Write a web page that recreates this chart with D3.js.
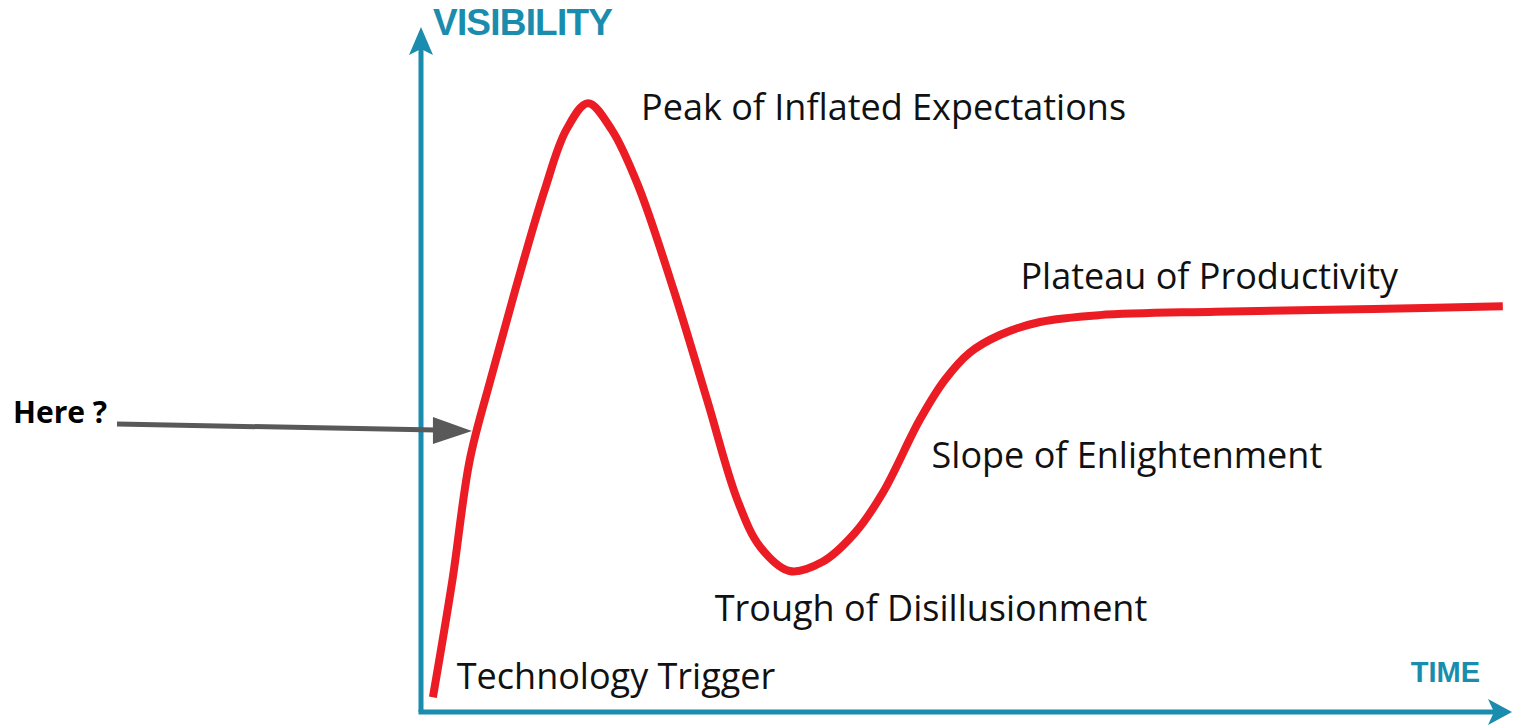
<!DOCTYPE html>
<meta charset="utf-8">
<style>
  body { margin: 0; background: #fff; }
  text { font-family: "Open Sans", "Noto Sans", sans-serif; }
</style>
<script src="https://cdn.jsdelivr.net/npm/d3@7"></script>
<div id="chart"></div>
<script>

// hype cycle (time and visibility on 0-100 scales)
var time = [1.1, 2.9, 4.5, 6.4, 8.7, 11.4, 13.4, 15.4, 17.6, 20.0, 23.3, 26.4, 29.2, 31.3, 34.0, 37.0, 40.0, 42.6, 46.0, 48.3, 50.6, 53.4, 57.1, 62.6, 73.3, 87.9, 99.8]
var visibility = [2.3, 19.4, 36.9, 48.5, 61.7, 76.2, 85.0, 88.9, 85.0, 77.0, 61.7, 45.6, 31.0, 24.2, 20.7, 22.0, 26.2, 32.1, 42.7, 48.5, 52.5, 55.1, 57.0, 58.0, 58.5, 58.9, 59.3]

var phases = ["Technology Trigger", "Peak of Inflated Expectations", "Trough of Disillusionment", "Slope of Enlightenment", "Plateau of Productivity"]
var axisTitles = ["TIME", "VISIBILITY"]
var pointer = "Here ?"

var width = 1514,
    height = 725

var x = d3.scaleLinear().domain([0, 100]).range([421, 1505])
var y = d3.scaleLinear().domain([0, 100]).range([713, 27])

var svg = d3.select("#chart")
  .append("svg")
    .attr("width", width)
    .attr("height", height)

var teal = "#1a8cad"

// axes: plain lines with arrow heads
svg.append("line")
    .attr("x1", x(0)).attr("y1", y(0) - 1)
    .attr("x2", x(0)).attr("y2", y(100) + 20)
    .attr("stroke", teal)
    .attr("stroke-width", 5)
svg.append("line")
    .attr("x1", x(0) - 2.5).attr("y1", y(0) - 1)
    .attr("x2", x(100) - 10).attr("y2", y(0) - 1)
    .attr("stroke", teal)
    .attr("stroke-width", 5)

svg.append("path")
    .attr("d", "M" + x(0) + "," + y(100) + "L" + (x(0) + 12) + "," + (y(100) + 28) + "L" + x(0) + "," + (y(100) + 22) + "L" + (x(0) - 12) + "," + (y(100) + 28) + "Z")
    .attr("fill", teal)
svg.append("path")
    .attr("d", "M" + (x(100) + 7) + "," + (y(0) - 1) + "L" + (x(100) - 17) + "," + (y(0) - 14) + "L" + (x(100) - 11) + "," + (y(0) - 1) + "L" + (x(100) - 17) + "," + (y(0) + 12) + "Z")
    .attr("fill", teal)

svg.append("text")
    .attr("x", x(0) + 12)
    .attr("y", 35)
    .attr("fill", teal)
    .style("font-family", "'Liberation Sans', Arial, sans-serif")
    .style("font-size", "37px")
    .style("font-weight", "bold")
    .style("letter-spacing", "-0.8px")
    .text(axisTitles[1])

svg.append("text")
    .attr("x", 1480)
    .attr("y", 682)
    .attr("text-anchor", "end")
    .attr("fill", teal)
    .style("font-family", "'Liberation Sans', Arial, sans-serif")
    .style("font-size", "29px")
    .style("font-weight", "bold")
    .text(axisTitles[0])

// the curve
var pts = time.map(function(t, i) { return [t, visibility[i]] })

var line = d3.line()
    .x(function(d) { return x(d[0]) })
    .y(function(d) { return y(d[1]) })
    .curve(d3.curveCatmullRom.alpha(0.5))

svg.append("path")
    .datum(pts)
    .attr("d", line)
    .attr("fill", "none")
    .attr("stroke", "#ec1c24")
    .attr("stroke-width", 8)
    .attr("stroke-linecap", "butt")

// phase labels, anchored at their left baseline
var anchors = [[3.3, 3.5], [20.3, 86.4], [27.1, 13.4], [47.1, 35.7], [55.3, 61.8]]
svg.selectAll("phaselabels")
  .data(phases)
  .enter()
  .append("text")
    .attr("x", function(d, i) { return x(anchors[i][0]) })
    .attr("y", function(d, i) { return y(anchors[i][1]) })
    .attr("fill", "#111")
    .style("font-size", "36px")
    .text(function(d) { return d })

// "Here ?" pointer
var target = [4.7, 41.1]
svg.append("text")
    .attr("x", 13)
    .attr("y", 423)
    .attr("fill", "#000")
    .style("font-size", "30px")
    .style("font-weight", "bold")
    .text(pointer)

svg.append("line")
    .attr("x1", 117).attr("y1", 424)
    .attr("x2", x(target[0]) - 36).attr("y2", y(target[1]) - 1)
    .attr("stroke", "#595959")
    .attr("stroke-width", 5)
svg.append("path")
    .attr("d", "M" + x(target[0]) + "," + y(target[1]) + "L" + (x(target[0]) - 39) + "," + (y(target[1]) - 14) + "L" + (x(target[0]) - 39) + "," + (y(target[1]) + 13) + "Z")
    .attr("fill", "#595959")

</script>
